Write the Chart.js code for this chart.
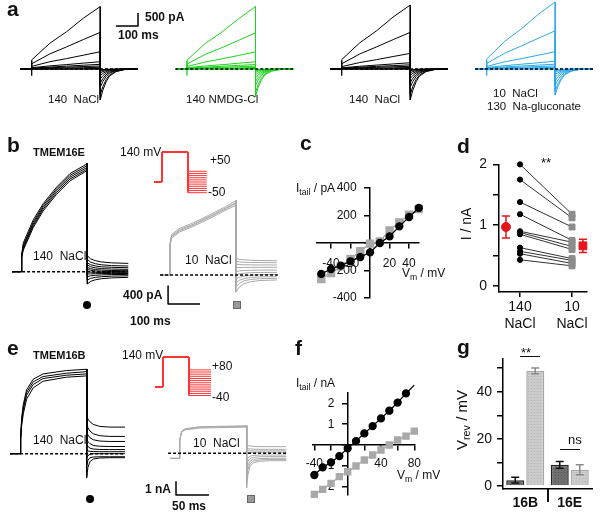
<!DOCTYPE html>
<html lang="en">
<head>
<meta charset="UTF-8" />
<title>TMEM16 tail currents</title>
<script src="https://cdn.jsdelivr.net/npm/chart.js"></script>
<style>
  body { margin: 0; background: #fff; }
  #fig { position: relative; width: 600px; height: 514px; overflow: hidden; font-family: "Liberation Sans", Arial, sans-serif; color: #111; }
  .lbl { position: absolute; white-space: nowrap; line-height: 1; }
  .lbl sub { font-size: 0.72em; vertical-align: -0.3em; line-height: 0; }
  .rot { position: absolute; white-space: nowrap; line-height: 1; transform: translate(-50%, -50%) rotate(-90deg); }
  .rot sub { font-size: 0.72em; vertical-align: -0.3em; line-height: 0; }
  .hl { position: absolute; background: #111; }
  .sym { position: absolute; }
</style>
</head>
<body>
<div id="fig"></div>

<script>
// ---------- panel a: 140 NaCl / 140 NMDG-Cl / 140 NaCl / 10 NaCl + 130 gluconate (pA vs ms)
const aTime = [-50, 0, 0, 82, 158, 233, 310, 310, 322, 337, 352, 382, 420, 480];
const aOnsetTick = [-260, 330];
const aNaCl1 = [
  [0, 0, 350, 990, 1435, 1950, 2400, -1190, -810, -490, -270, -100, -25, 0],
  [0, 0, 200, 580, 850, 1130, 1410, -990, -670, -405, -230, -85, -20, 0],
  [0, 0, 100, 280, 400, 530, 665, -700, -475, -290, -160, -60, -15, 0],
  [0, 0, 50, 120, 170, 225, 280, -540, -365, -220, -125, -47, -10, 0],
  [0, 0, 30, 75, 110, 145, 180, -380, -260, -155, -87, -33, -8, 0],
  [0, 0, 20, 50, 70, 95, 115, -250, -170, -100, -58, -22, -5, 0],
  [0, 0, 10, 25, 40, 50, 65, -150, -100, -60, -35, -13, -3, 0],
  [0, 0, 0, 5, 10, 15, 20, -80, -55, -33, -18, -7, 0, 0],
  [0, 0, -10, -10, -10, -10, -10, -30, -20, -12, -7, -3, 0, 0]
];
const aNMDG = [
  [0, 0, 340, 980, 1420, 1930, 2400, -1070, -700, -420, -230, -85, -20, 0],
  [0, 0, 190, 560, 820, 1100, 1390, -900, -590, -355, -195, -72, -17, 0],
  [0, 0, 95, 270, 390, 520, 660, -640, -420, -250, -140, -52, -12, 0],
  [0, 0, 50, 115, 165, 220, 280, -480, -315, -190, -105, -40, -9, 0],
  [0, 0, 30, 70, 105, 140, 170, -340, -225, -135, -75, -28, -7, 0],
  [0, 0, 20, 45, 65, 90, 110, -220, -145, -87, -48, -18, -4, 0],
  [0, 0, 10, 25, 35, 45, 60, -130, -85, -52, -29, -11, -2, 0],
  [0, 0, 0, 5, 10, 15, 20, -70, -46, -28, -15, -6, 0, 0],
  [0, 0, -10, -10, -10, -10, -10, -25, -17, -10, -6, -2, 0, 0]
];
const aNaCl2 = [
  [0, 0, 360, 1010, 1470, 2000, 2460, -1190, -810, -490, -270, -100, -25, 0],
  [0, 0, 200, 580, 850, 1130, 1410, -980, -665, -400, -225, -85, -20, 0],
  [0, 0, 90, 250, 360, 480, 600, -700, -475, -290, -160, -60, -15, 0],
  [0, 0, 45, 105, 150, 195, 240, -520, -355, -215, -120, -45, -10, 0],
  [0, 0, 30, 70, 100, 130, 160, -370, -250, -150, -85, -32, -8, 0],
  [0, 0, 20, 45, 65, 85, 105, -240, -165, -100, -55, -21, -5, 0],
  [0, 0, 10, 25, 35, 45, 60, -145, -100, -60, -33, -12, -3, 0],
  [0, 0, 0, 5, 10, 15, 20, -75, -50, -30, -17, -6, 0, 0],
  [0, 0, -10, -10, -10, -10, -10, -30, -20, -12, -7, -3, 0, 0]
];
const aGluc = [
  [0, 0, 380, 1070, 1550, 2100, 2580, -1000, -680, -410, -230, -85, -20, 0],
  [0, 0, 210, 610, 890, 1180, 1470, -840, -570, -345, -195, -73, -17, 0],
  [0, 0, 95, 280, 400, 530, 665, -620, -420, -255, -143, -54, -12, 0],
  [0, 0, 55, 130, 185, 240, 300, -450, -305, -185, -103, -39, -9, 0],
  [0, 0, 35, 80, 115, 150, 185, -320, -218, -131, -74, -28, -6, 0],
  [0, 0, 20, 50, 70, 95, 115, -210, -143, -86, -48, -18, -4, 0],
  [0, 0, 10, 25, 40, 50, 65, -125, -85, -51, -29, -11, -3, 0],
  [0, 0, 0, 5, 10, 15, 20, -65, -44, -27, -15, -6, 0, 0],
  [0, 0, -10, -10, -10, -10, -10, -25, -17, -10, -6, -2, 0, 0]
];

// ---------- panel b: TMEM16E, 140 mV prepulse then tails (pA vs ms)
const bTime = [-30, 0, 0, 5, 36, 67, 109, 151, 205];
const bNaPulse = [
  [0, 0, 380, 640, 1150, 1510, 1880, 2180, 2400],
  [0, 0, 360, 590, 1100, 1470, 1840, 2140, 2360],
  [0, 0, 350, 560, 1060, 1430, 1800, 2100, 2320],
  [0, 0, 330, 520, 1020, 1390, 1760, 2060, 2280],
  [0, 0, 320, 480, 980, 1350, 1720, 2020, 2250]
];
const bTailTime = [205, 215, 230, 250, 280, 333];
const bNaTail = [
  [356, 288, 245, 216, 197, 185],
  [275, 215, 178, 153, 136, 126],
  [200, 156, 128, 109, 97, 89],
  [150, 111, 86, 70, 59, 52],
  [97, 67, 48, 36, 27, 22],
  [52, 31, 18, 9, 4, 0],
  [0, -9, -14, -18, -20, -22],
  [-52, -47, -44, -42, -41, -40],
  [-111, -91, -80, -71, -64, -60],
  [-185, -148, -126, -111, -98, -90],
  [-274, -215, -180, -155, -138, -125]
];
const bLowTime = [-31, 0, 0, 5, 31, 73, 125, 177, 206];
const bLowPulse = [
  [0, 0, 700, 900, 1040, 1160, 1340, 1530, 1650],
  [0, 0, 680, 870, 1010, 1130, 1310, 1500, 1610],
  [0, 0, 660, 850, 985, 1110, 1290, 1480, 1590],
  [0, 0, 640, 820, 960, 1080, 1260, 1450, 1550]
];
const bLowTailTime = [206, 216, 231, 251, 281, 334];
const bLowTail = [
  [371, 350, 337, 328, 322, 318],
  [300, 290, 283, 279, 276, 274],
  [240, 233, 228, 225, 223, 222],
  [160, 165, 168, 169, 170, 170],
  [74, 90, 100, 106, 109, 111],
  [0, 25, 40, 50, 56, 59],
  [-90, -50, -25, -8, 7, 15],
  [-180, -120, -80, -55, -42, -37],
  [-270, -190, -130, -100, -82, -74],
  [-380, -270, -195, -150, -122, -111]
];
const bSteps = [50, 40, 30, 20, 10, 0, -10, -20, -30, -40, -50];

// ---------- panel c: tail I-V, TMEM16E (pA vs mV)
const cVm = [-50, -40, -30, -20, -10, 0, 10, 20, 30, 40, 50];
const cNa140 = [-225, -189, -165, -133, -102, -68, 0, 48, 121, 189, 255];
const cNa10 = [-262, -218, -170, -116, -60, -5, 12, 92, 150, 206, 247];

// ---------- panel d: paired tail amplitudes (nA)
const dNa140 = [2.0, 1.75, 1.38, 1.18, 0.90, 0.88, 0.85, 0.63, 0.57, 0.53, 0.43];
const dNa10 = [1.18, 1.12, 0.97, 0.75, 0.72, 0.65, 0.60, 0.45, 0.42, 0.37, 0.33];
const dMean = [0.97, 0.66];
const dSem = [0.18, 0.11];

// ---------- panel e: TMEM16B (nA vs ms)
const eTime = [-15, 0, 1, 2.5, 5, 10, 20, 35, 70, 101];
const eNaPulse = [
  [0, 0, 1.3, 2.7, 3.7, 4.8, 5.6, 6.0, 6.25, 6.35],
  [0, 0, 1.2, 2.5, 3.5, 4.6, 5.4, 5.8, 6.05, 6.17],
  [0, 0, 1.1, 2.3, 3.3, 4.4, 5.2, 5.65, 5.9, 6.0],
  [0, 0, 1.0, 2.1, 3.0, 4.1, 4.95, 5.45, 5.75, 5.85]
];
const eTailTime = [101, 103, 106, 111, 121, 136, 159];
const eNaTail = [
  [2.85, 2.6, 2.4, 2.2, 2.05, 2.0, 2.0],
  [2.2, 1.95, 1.7, 1.5, 1.35, 1.3, 1.3],
  [1.6, 1.4, 1.2, 1.05, 0.95, 0.92, 0.92],
  [1.1, 0.9, 0.75, 0.62, 0.56, 0.54, 0.54],
  [0.7, 0.55, 0.42, 0.35, 0.32, 0.31, 0.31],
  [0.3, 0.2, 0.18, 0.16, 0.15, 0.15, 0.15],
  [-0.3, -0.15, -0.05, 0, 0, 0, 0],
  [-0.9, -0.5, -0.3, -0.25, -0.23, -0.23, -0.23],
  [-1.8, -1.0, -0.6, -0.4, -0.32, -0.3, -0.3]
];
const eLowTime = [-14, 0, 0.5, 1, 3.5, 8.6, 31, 102];
const eLowPulse = [
  [-0.38, -0.38, 0.5, 1.0, 1.65, 1.85, 2.0, 2.07],
  [-0.38, -0.38, 0.5, 1.0, 1.62, 1.8, 1.95, 2.02],
  [-0.38, -0.38, 0.5, 1.0, 1.58, 1.76, 1.9, 1.97]
];
const eLowTailTime = [102, 104, 107, 112, 122, 137, 162];
const eLowTail = [
  [0.63, 0.58, 0.55, 0.52, 0.5, 0.5, 0.5],
  [0.38, 0.35, 0.33, 0.31, 0.3, 0.3, 0.3],
  [0.2, 0.19, 0.18, 0.18, 0.18, 0.18, 0.18],
  [0.0, 0.04, 0.06, 0.07, 0.08, 0.08, 0.08],
  [-0.6, -0.35, -0.22, -0.16, -0.13, -0.13, -0.13],
  [-1.0, -0.6, -0.4, -0.3, -0.26, -0.25, -0.25],
  [-1.5, -0.9, -0.6, -0.45, -0.4, -0.38, -0.38],
  [-2.0, -1.2, -0.8, -0.58, -0.5, -0.46, -0.45],
  [-2.6, -1.6, -1.0, -0.72, -0.6, -0.56, -0.55]
];
const eSteps = [80, 70, 60, 50, 40, 30, 20, 10, 0, -10, -20, -30, -40];

// ---------- panel f: tail I-V, TMEM16B (nA vs mV)
const fVm = [-40, -30, -20, -10, 0, 10, 20, 30, 40, 50, 60, 70, 80];
const fNa140 = [-1.44, -1.07, -0.83, -0.53, -0.16, 0.19, 0.56, 0.91, 1.28, 1.65, 2.04, 2.48, 2.88];
const fNa10 = [-2.37, -2.13, -1.84, -1.52, -1.28, -1.01, -0.72, -0.48, -0.24, 0.0, 0.24, 0.43, 0.67];

// ---------- panel g: reversal potentials (mV)
const gGroups = ['16B', '16E'];
const gRev140 = [2.5, 9.0];
const gRev140Err = [1.2, 1.4];
const gRev10 = [48.8, 6.9];
const gRev10Err = [1.2, 2.1];

const PROTO_PULSE = 140;
const FONT = "'Liberation Sans', Arial, sans-serif";
const RED = '#ff3535';
const GREEN = '#1ed21e';
const BLUE = '#2ba8ec';
const GRAY = '#a9a9a9';

Chart.defaults.font.family = FONT;
Chart.defaults.color = '#111';
Chart.defaults.animation = false;
Chart.defaults.responsive = false;
Chart.defaults.events = [];
Chart.defaults.plugins.legend.display = false;
Chart.defaults.plugins.tooltip.enabled = false;

const fig = document.getElementById('fig');

function makeCanvas(box) {
    const c = document.createElement('canvas');
    c.width = box[2]; c.height = box[3];
    c.style.cssText = `position:absolute;left:${box[0]}px;top:${box[1]}px;width:${box[2]}px;height:${box[3]}px`;
    fig.appendChild(c);
    return c;
}

function line(points, color, width, extra) {
    return Object.assign({
        data: points, borderColor: color, borderWidth: width, pointRadius: 0,
        tension: 0, fill: false, clip: false, borderJoinStyle: 'round'
    }, extra || {});
}

function rows(times, list, color, width) {
    return list.map(r => line(r.map((v, i) => ({ x: times[i], y: v })), color, width));
}

function tails(times, list, color, width, fromY) {
    return list.map(r => line([{ x: times[0], y: fromY }].concat(r.map((v, i) => ({ x: times[i], y: v }))), color, width));
}

function dashed(t0, t1) {
    return line([{ x: t0, y: 0 }, { x: t1, y: 0 }], '#000', 1.5, { borderDash: [3, 2] });
}

// chart whose plot area is the whole canvas; (xo, yo) is where t = 0, I = 0 sits on the page
function traceChart(box, xo, kx, yo, ky, datasets) {
    const [l, t, w, h] = box;
    return new Chart(makeCanvas(box), {
        type: 'line',
        data: { datasets },
        options: {
            layout: { padding: 0 },
            scales: {
                x: { type: 'linear', display: false, min: (l - xo) / kx, max: (l + w - xo) / kx },
                y: { type: 'linear', display: false, min: (yo - t - h) / ky, max: (yo - t) / ky }
            }
        }
    });
}

function protocol(steps, end) {
    return steps.map(v => line([
        { x: -25, y: 0 }, { x: 0, y: 0 }, { x: 0, y: PROTO_PULSE }, { x: 81, y: PROTO_PULSE },
        { x: 81, y: v }, { x: end, y: v }
    ], RED, 1));
}

// ----- panel a
const aPanels = [
    { rows: aNaCl1, color: '#000', left: 14, xo: 31.7, w: 135 },
    { rows: aNMDG, color: GREEN, left: 170, xo: 187, w: 135 },
    { rows: aNaCl2, color: '#000', left: 324, xo: 341.7, w: 135 },
    { rows: aGluc, color: BLUE, left: 470, xo: 486.7, w: 130 }
];
aPanels.forEach((p, k) => {
    const ds = [dashed(-53, 490)]
        .concat(rows(aTime, p.rows, p.color, 1))
        .concat([line(aOnsetTick.map(v => ({ x: 0, y: v })), p.color, 1.3)]);
    if (k === 0) {
        // 100 ms / 500 pA scale bar
        ds.push(line([{ x: 381, y: 1654 }, { x: 481, y: 1654 }, { x: 481, y: 2154 }], '#000', 1.5));
    }
    traceChart([p.left, 0, p.w, 112], p.xo, 0.221, 69, 0.026, ds);
});

// ----- panel b
traceChart([8, 140, 128, 150], 21.7, 0.32, 271.7, 0.045,
    [dashed(-30, 332)]
        .concat(rows(bTime, bNaPulse, '#000', 1))
        .concat(tails(bTailTime, bNaTail, '#000', 1, 2400)));

traceChart([150, 190, 135, 120], 170, 0.32, 275, 0.045,
    [dashed(-31, 337),
     line([{ x: -6, y: -244 }, { x: -6, y: -644 }, { x: 94, y: -644 }], '#000', 1.5)]
        .concat(rows(bLowTime, bLowPulse, GRAY, 1))
        .concat(tails(bLowTailTime, bLowTail, GRAY, 1, 1650)));

traceChart([145, 140, 70, 60], 162, 0.32, 182, 0.214, protocol(bSteps, 140));

// ----- panel e
traceChart([5, 340, 128, 150], 20, 0.66, 453.7, 13.3,
    [dashed(-15, 159)]
        .concat(rows(eTime, eNaPulse, '#000', 1))
        .concat(tails(eTailTime, eNaTail, '#000', 1, 6.35)));

traceChart([160, 400, 135, 100], 179.3, 0.66, 453.3, 13.3,
    [dashed(-17, 163),
     line([{ x: -5, y: -2.13 }, { x: -5, y: -3.13 }, { x: 45, y: -3.13 }], '#000', 1.5)]
        .concat(rows(eLowTime, eLowPulse, GRAY, 1))
        .concat(tails(eLowTailTime, eLowTail, GRAY, 1, 2.07)));

traceChart([150, 345, 70, 60], 163, 0.32, 387, 0.214, protocol(eSteps, 150));

// ----- error bars
const errorBars = {
    id: 'errorBars',
    afterDatasetsDraw(chart) {
        const ctx = chart.ctx;
        chart.data.datasets.forEach((ds, i) => {
            if (!ds.errors) return;
            const meta = chart.getDatasetMeta(i);
            const ys = chart.scales[meta.yAxisID];
            ctx.save();
            ctx.strokeStyle = ds.errorColor;
            ctx.lineWidth = 1.5;
            meta.data.forEach((el, j) => {
                const raw = ds.data[j];
                const v = typeof raw === 'object' ? raw.y : raw;
                const top = ys.getPixelForValue(v + ds.errors[j]);
                const bot = ys.getPixelForValue(v - ds.errors[j]);
                const cap = ds.capWidth;
                ctx.beginPath();
                ctx.moveTo(el.x, top); ctx.lineTo(el.x, bot);
                ctx.moveTo(el.x - cap, top); ctx.lineTo(el.x + cap, top);
                ctx.moveTo(el.x - cap, bot); ctx.lineTo(el.x + cap, bot);
                ctx.stroke();
            });
            ctx.restore();
        });
    }
};

// axis helper for the crossing I-V axes; labels on a y axis placed this way sit right on
// the axis line, so they get a few trailing spaces to keep them clear of it
function crossAxis(min, max, position, ticks, labels, pad, tail) {
    return {
        type: 'linear', min, max, position,
        afterBuildTicks: s => { s.ticks = ticks.map(v => ({ value: v })); },
        grid: { display: true, drawOnChartArea: false, drawTicks: true, tickLength: 5, color: '#000', lineWidth: 1.5 },
        border: { display: true, color: '#000', width: 1.5 },
        ticks: { font: { size: 12 }, color: '#111', padding: pad, autoSkip: false, maxRotation: 0,
                 callback: v => (labels.includes(v) ? String(v) + tail : '') }
    };
}

function ivChart(box, padding, xr, yr, xticks, xlabels, yticks, ylabels, x, blackY, grayY, sizes, xpad) {
    return new Chart(makeCanvas(box), {
        type: 'line',
        data: {
            datasets: [
                { data: x.map((v, i) => ({ x: v, y: blackY[i] })), borderColor: '#000', backgroundColor: '#000',
                  borderWidth: 1.3, pointRadius: sizes[0], pointStyle: 'circle', tension: 0, clip: false },
                { data: x.map((v, i) => ({ x: v, y: grayY[i] })), borderColor: GRAY, backgroundColor: GRAY,
                  borderWidth: 1.3, pointRadius: sizes[1], pointStyle: 'rect', tension: 0, clip: false }
            ]
        },
        options: {
            layout: { padding },
            scales: {
                x: crossAxis(xr[0], xr[1], { y: 0 }, xticks, xlabels, xpad, ''),
                y: crossAxis(yr[0], yr[1], { x: 0 }, yticks, ylabels, 0, '    ')
            }
        }
    });
}

// ----- panel c
ivChart([296, 175, 150, 135], { left: 20.4, right: 27.2, top: 13, bottom: 12 }, [-55, 50], [-400, 400],
    [-40, -20, 0, 20, 40], [-40, -20, 20, 40], [-400, -200, 0, 200, 400], [-400, -200, 200, 400],
    cVm, cNa140, cNa10, [3.5, 5], 8);

// ----- panel f
ivChart([290, 375, 160, 130], { left: 22.7, right: 35.7, top: 18, bottom: 10 }, [-42, 80], [-2.4, 2.5],
    [-40, -20, 0, 20, 40, 60, 80], [-40, 40, 80], [-2, -1, 0, 1, 2], [-2, -1, 1, 2],
    fVm, fNa140, fNa10, [3.5, 4.3], 6);

// ----- panel d
const dData = [];
dNa140.forEach((v, i) => {
    dData.push({
        data: [{ x: 1, y: v }, { x: 2, y: dNa10[i] }], borderColor: '#333', borderWidth: 1,
        pointStyle: ['circle', 'rect'], pointRadius: [2.6, 4.2],
        pointBackgroundColor: ['#000', '#8c8c8c'], pointBorderColor: ['#000', '#8c8c8c'], clip: false
    });
});
dData.unshift({
    data: [{ x: 0.73, y: dMean[0] }, { x: 2.21, y: dMean[1] }], showLine: false,
    pointStyle: ['circle', 'rect'], pointRadius: [4.5, 5.5],
    pointBackgroundColor: '#e5161b', pointBorderColor: '#e5161b',
    errors: dSem, errorColor: '#e5161b', capWidth: 4, clip: false
});
new Chart(makeCanvas([440, 150, 160, 185]), {
    type: 'line',
    data: { datasets: dData },
    plugins: [errorBars],
    options: {
        layout: { padding: { top: 13, right: 13, left: 0, bottom: 0 } },
        scales: {
            x: {
                type: 'linear', min: 0.596, max: 2.288,
                afterFit: s => { s.height = 43; },
                afterBuildTicks: s => { s.ticks = [{ value: 1 }, { value: 2 }]; },
                grid: { display: true, drawOnChartArea: false, tickLength: 5, color: '#000', lineWidth: 1.5 },
                border: { display: true, color: '#000', width: 1.5 },
                ticks: { font: { size: 14, lineHeight: 1.2 }, padding: 2, maxRotation: 0,
                         callback: v => (v === 1 ? ['140', 'NaCl'] : ['10', 'NaCl']) }
            },
            y: {
                type: 'linear', min: -0.1, max: 2.0,
                afterFit: s => { s.width = 59; },
                afterBuildTicks: s => { s.ticks = [0, 0.5, 1, 1.5, 2].map(v => ({ value: v })); },
                grid: { display: true, drawOnChartArea: false, tickLength: 6, color: '#000', lineWidth: 1.5 },
                border: { display: true, color: '#000', width: 1.5 },
                ticks: { font: { size: 14 }, padding: 6, callback: v => (Number.isInteger(v) ? String(v) : '') }
            }
        }
    }
});

// ----- panel g
const gCanvas = makeCanvas([440, 345, 160, 169]);
function dotPattern(base, dot) {
    const p = document.createElement('canvas');
    p.width = 3; p.height = 3;
    const x = p.getContext('2d');
    x.fillStyle = base; x.fillRect(0, 0, 3, 3);
    x.fillStyle = dot; x.fillRect(1, 1, 1, 1);
    return gCanvas.getContext('2d').createPattern(p, 'repeat');
}
new Chart(gCanvas, {
    type: 'bar',
    data: {
        labels: gGroups,
        datasets: [
            { data: gRev140, backgroundColor: dotPattern('#6f6f6f', '#555'), borderColor: '#262626', borderWidth: 1.5,
              errors: gRev140Err, errorColor: '#111', capWidth: 4, barPercentage: 0.9, categoryPercentage: 0.9 },
            { data: gRev10, backgroundColor: dotPattern('#cbcbcb', '#b5b5b5'), borderColor: '#a8a8a8', borderWidth: 1.5,
              errors: gRev10Err, errorColor: '#8a8a8a', capWidth: 4, barPercentage: 0.9, categoryPercentage: 0.9 }
        ]
    },
    plugins: [errorBars],
    options: {
        layout: { padding: { top: 10, right: 8, left: 0, bottom: 0 } },
        scales: {
            x: {
                afterFit: s => { s.height = 25; },
                grid: { display: false, drawTicks: false },
                border: { display: true, color: '#000', width: 1.5 },
                ticks: { font: { size: 14, weight: 'bold' }, color: '#111', padding: 6 }
            },
            y: {
                type: 'linear', min: -1.24, max: 54.1,
                afterFit: s => { s.width = 63; },
                afterBuildTicks: s => { s.ticks = [0, 10, 20, 30, 40, 50].map(v => ({ value: v })); },
                grid: { display: true, drawOnChartArea: false, tickLength: 6, color: '#000', lineWidth: 1.5 },
                border: { display: true, color: '#000', width: 1.5 },
                ticks: { font: { size: 14 }, padding: 5, callback: v => (v % 20 === 0 ? String(v) : '') }
            }
        }
    }
});

// ----- text, symbols, small marks
const labels = [
    ['a', 7, 16, 21, 700], ['500 pA', 145, 21.5, 12, 700], ['100 ms', 118, 39.5, 12, 700],
    ['140&nbsp; NaCl', 48, 104, 11.5], ['140 NMDG-Cl', 186, 104, 11.5], ['140&nbsp; NaCl', 349, 104, 11.5],
    ['10&nbsp; NaCl', 493, 98, 11.5], ['130&nbsp; Na-gluconate', 487, 111, 11.5],
    ['b', 7, 152, 21, 700], ['TMEM16E', 33, 156, 11, 700], ['140 mV', 120, 156, 12],
    ['+50', 210, 164, 12], ['-50', 208, 196, 12], ['140&nbsp; NaCl', 33, 260, 12], ['10&nbsp; NaCl', 185, 264, 12],
    ['400 pA', 123, 299, 12, 700], ['100 ms', 130, 325, 12, 700],
    ['c', 300, 150, 21, 700], ['I<sub>tail</sub> / pA', 296, 192, 12], ['V<sub>m</sub> / mV', 402, 277, 12],
    ['d', 457, 153, 21, 700], ['**', 541, 167, 13],
    ['e', 7, 355, 21, 700], ['TMEM16B', 33, 359, 11, 700], ['140 mV', 122, 359, 12],
    ['+80', 212, 370, 12], ['-40', 212, 401, 12], ['140&nbsp; NaCl', 33, 444, 12], ['10&nbsp; NaCl', 193, 447, 12],
    ['1 nA', 145, 493, 12, 700], ['50 ms', 172, 510, 12, 700],
    ['f', 295, 355, 21, 700], ['I<sub>tail</sub> / nA', 296, 387, 12], ['V<sub>m</sub> / mV', 397, 479, 12],
    ['g', 457, 354, 21, 700], ['**', 521, 357, 13], ['ns', 568, 444, 13]
];
labels.forEach(([html, x, base, size, weight]) => {
    const d = document.createElement('div');
    d.className = 'lbl';
    d.innerHTML = html;
    d.style.left = x + 'px';
    d.style.top = (base - 0.85 * size) + 'px';
    d.style.fontSize = size + 'px';
    d.style.fontWeight = weight || 400;
    fig.appendChild(d);
});

const rotated = [['I / nA', 466, 224, 14], ['V<sub>rev</sub> / mV', 461, 420, 15]];
rotated.forEach(([html, cx, cy, size]) => {
    const d = document.createElement('div');
    d.className = 'rot';
    d.innerHTML = html;
    d.style.left = cx + 'px';
    d.style.top = cy + 'px';
    d.style.fontSize = size + 'px';
    fig.appendChild(d);
});

const marks = [
    // significance bars and the divider under panel g
    ['hl', 520, 356, 20, 1.3], ['hl', 560, 449, 20, 1.3], ['hl', 547, 489, 1.5, 13]
];
marks.forEach(([cls, x, y, w, h]) => {
    const d = document.createElement('div');
    d.className = cls;
    d.style.cssText += `left:${x}px;top:${y}px;width:${w}px;height:${h}px`;
    fig.appendChild(d);
});

const symbols = [
    [87, 305, 'circle'], [237, 305, 'square'], [90, 499, 'circle'], [251, 499, 'square']
];
symbols.forEach(([cx, cy, kind]) => {
    const d = document.createElement('div');
    d.className = 'sym';
    if (kind === 'circle') {
        d.style.cssText += `left:${cx - 4}px;top:${cy - 4}px;width:8px;height:8px;border-radius:50%;background:#000`;
    } else {
        d.style.cssText += `left:${cx - 4}px;top:${cy - 4}px;width:6px;height:6px;background:#9a9a9a;border:1px solid #666`;
    }
    fig.appendChild(d);
});
</script>
</body>
</html>
